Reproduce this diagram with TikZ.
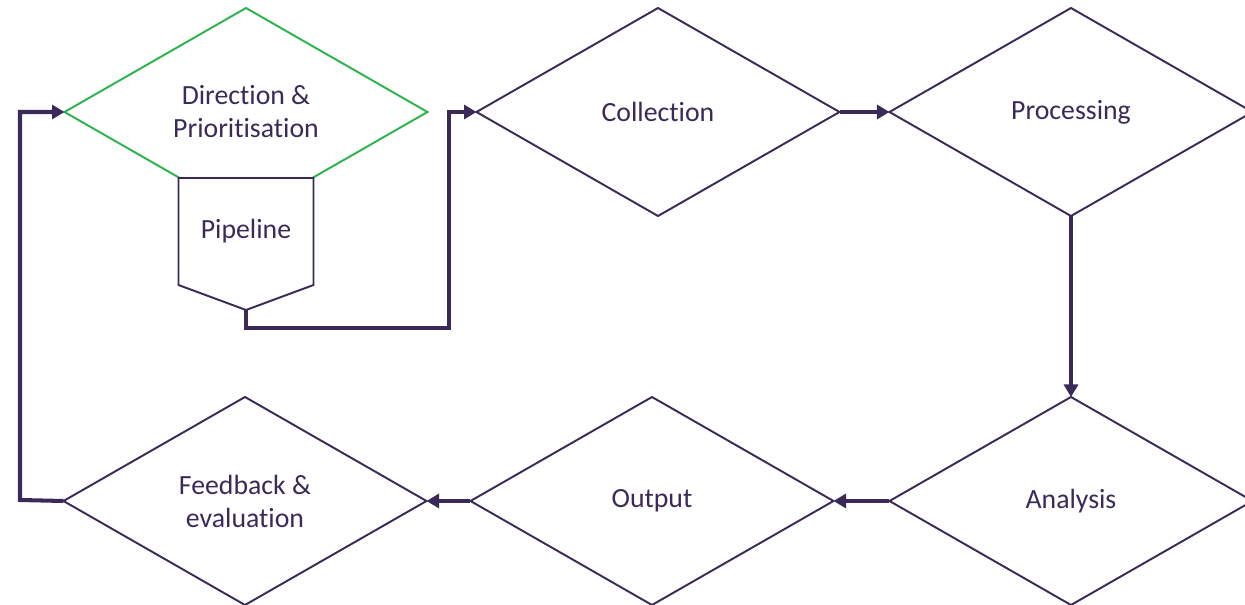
\documentclass[tikz,border=0pt]{standalone}
\usepackage{fontspec}
\setmainfont[Ligatures=NoCommon]{Carlito}
\usepackage{tikz}
\usetikzlibrary{arrows.meta,positioning,shapes.geometric}

\definecolor{cycleink}{HTML}{3B2A58}
\definecolor{cyclegreen}{HTML}{2DB34D}

\begin{document}
\begin{tikzpicture}[
    stage/.style={diamond, draw=cycleink, line width=1.1pt, fill=white, text=cycleink, align=center,
        minimum width=7.26cm, minimum height=4.16cm, inner sep=0pt, outer sep=0pt,
        font=\fontsize{15.8}{18.8}\selectfont},
    pipebox/.style={rectangle, text=cycleink, minimum width=2.7cm, minimum height=2.14cm,
        inner sep=0pt, outer sep=0pt, font=\fontsize{15.8}{18.8}\selectfont},
    link/.style={-{Triangle[length=0.25cm, width=0.28cm]}, line width=2.3pt, draw=cycleink}
]
\useasboundingbox (0,0) rectangle (24.9,-12.1);
\node[stage, draw=cyclegreen] (dir) at (4.92,-2.24) {Direction \&\\Prioritisation};
\node[stage, right=0.98cm of dir] (coll) {Collection};
\node[stage, right=1.0cm of coll] (proc) {Processing};
\node[stage, below=3.62cm of proc] (anal) {Analysis};
\node[stage, left=1.12cm of anal] (outp) {Output};
\node[stage, left=0.88cm of outp] (feed) {Feedback \&\\evaluation};

% pipeline sits over the bottom of the first diamond
\node[pipebox, below=1.32cm of dir.center] (pipe) {};
\coordinate[below=0.5cm of pipe.south] (pipetip);
\draw[cycleink, line width=1.1pt, fill=white] (pipe.south west) -- (pipe.north west)
    -- (pipe.north east) -- (pipe.south east) -- (pipetip) -- cycle;
\node[pipebox] at (pipe) {Pipeline};

\coordinate (bend) at (8.98,-6.56);
\coordinate (loop) at (0.4,-10);
\draw[link] (pipetip) |- (bend) |- (coll.west);
\draw[link] (coll) -- (proc);
\draw[link] (proc) -- (anal);
\draw[link] (anal) -- (outp);
\draw[link] (outp) -- (feed);
\draw[link] (feed.west) -- (loop) |- (dir.west);
\end{tikzpicture}
\end{document}
